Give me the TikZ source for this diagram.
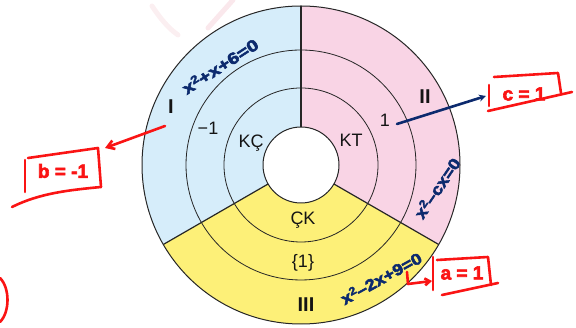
\documentclass[tikz,border=0pt]{standalone}
\usepackage{fontspec}
\setmainfont{Liberation Sans}
\newfontfamily\handfont{Liberation Sans}[BoldFeatures={FakeBold=3}]
\usetikzlibrary{arrows.meta}
\definecolor{sblue}{RGB}{214,237,250}
\definecolor{spink}{RGB}{249,212,229}
\definecolor{syellow}{RGB}{253,240,120}
\definecolor{navy}{RGB}{12,42,110}
\definecolor{pen}{RGB}{250,20,20}
\definecolor{wm}{RGB}{240,190,200}
\newcommand{\sqd}{\raisebox{0.6ex}{\fontsize{11}{11}\selectfont 2}}
\tikzset{
  lbl/.style={font=\fontsize{18}{18}\selectfont, text=black!92, inner sep=0pt},
  roman/.style={font=\fontsize{20}{20}\selectfont\bfseries, text=black!92, inner sep=0pt},
  hand/.style={font=\fontsize{16}{16}\handfont\bfseries, text=navy, inner sep=0pt},
  redtxt/.style={font=\fontsize{19}{19}\handfont\bfseries, text=pen, inner sep=0pt},
  redpen/.style={draw=pen, line width=2.6pt, line cap=round, line join=round},
  navypen/.style={draw=navy, line width=2.6pt, line cap=round},
  ring/.style={draw=black!85, line width=0.8pt},
  divider/.style={draw=black!85, line width=1.5pt}
}
\begin{document}
\begin{tikzpicture}[x=1pt,y=1pt]
\useasboundingbox (0,0) rectangle (576,328);
\coordinate (C) at (301,163);
% faint watermark
\draw[wm, line width=5pt, opacity=0.35, line cap=round] (233,328) -- (208,300);
\draw[wm, line width=5pt, opacity=0.25, line cap=round] (152,322) .. controls (160,310) and (168,300) .. (178,293);
% sectors
\fill[sblue] (C) -- ++(90:159) arc[start angle=90, end angle=210, radius=159] -- cycle;
\fill[syellow] (C) -- ++(210:159) arc[start angle=210, end angle=330, radius=159] -- cycle;
\fill[spink] (C) -- ++(-30:159) arc[start angle=-30, end angle=90, radius=159] -- cycle;
\fill[white] (C) circle[radius=38];
% rings
\draw[ring] (C) circle[radius=77];
\draw[ring] (C) circle[radius=115];
\draw[ring, line width=1pt] (C) circle[radius=159];
\draw[ring, line width=1pt] (C) circle[radius=38];
% dividers
\draw[divider] ([shift={(90:38)}]C) -- ([shift={(90:159)}]C);
\draw[divider, line width=1.2pt] ([shift={(210:38)}]C) -- ([shift={(210:159)}]C);
\draw[divider, line width=1.2pt] ([shift={(330:38)}]C) -- ([shift={(330:159)}]C);
% labels
\node[roman] (r1) at (171,221) {I};
\node[roman] (r2) at (425,231) {II};
\node[roman] (r3) at (306,23) {III};
\node[lbl] (m1) at (208,200) {−1};
\node[lbl] (kc) at (251,185) {KÇ};
\node[lbl] (kt) at (351,188) {KT};
\node[lbl] (p1) at (385,208) {1};
\node[lbl] (ck) at (303,108) {ÇK};
\node[lbl] (s1) at (303,65) {\{1\}};
% navy handwriting
\node[hand, rotate=33] (e1) at (220,262) {\scalebox{1.25}[1]{x\sqd+x+6=0}};
\node[hand, rotate=56] (e2) at (437,140) {\scalebox{1.15}[1]{x\sqd–cx=0}};
\node[hand, rotate=29] (e3) at (381,50) {\scalebox{1.15}[1]{x\sqd–2x+9=0}};
\coordinate (na) at (397,204);
\coordinate (nb) at (486,232);
\draw[navypen, -{Stealth[length=7pt,width=7pt]}] (na) -- (nb);
% red c = 1
\node[redtxt] (c1) at (524,234) {c = 1};
\draw[redpen] (489,243) -- (489,222);
\draw[redpen] (494,251) -- (558,255) -- (561,235);
\draw[redpen] (488,217) -- (572,236);
% red b = -1
\node[redtxt] (b1) at (63,157) {b = -1};
\draw[redpen] (25,168) -- (25,136);
\draw[redpen] (28,170) -- (98,180) -- (101,141);
\draw[redpen] (12,121) .. controls (40,135) and (70,138) .. (101,141);
\coordinate (ba) at (165,202);
\coordinate (bb) at (105,180);
\draw[redpen, -{Straight Barb[length=7pt,width=9pt]}] (ba) -- (bb);
% red a = 1
\node[redtxt] (a1) at (462,55) {a = 1};
\draw[redpen] (433,71) -- (433,38);
\draw[redpen] (437,68) -- (488,71) -- (491,43);
\draw[redpen] (442,33) -- (498,45);
\coordinate (aa) at (407,56);
\coordinate (ab) at (432,47);
\draw[redpen, -{Straight Barb[length=5pt,width=7pt]}] (aa) -- (408,44) -- (ab);
% red arc bottom-left
\draw[redpen] (0,50) .. controls (10,40) and (10,16) .. (0,6);
\end{tikzpicture}
\end{document}
